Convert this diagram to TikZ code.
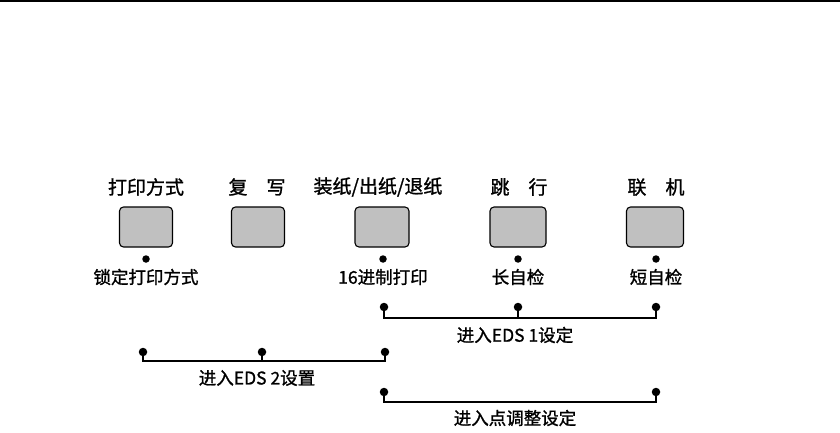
\documentclass[tikz,border=0pt]{standalone}
\usepackage{fontspec}
\setmainfont{Noto Sans CJK SC}[FakeBold=1.2]
\begin{document}
\begin{tikzpicture}[x=1pt,y=-1pt,
  keybox/.style={draw=black,line width=1.1pt,fill={rgb,255:red,192;green,192;blue,192},rounded corners=4pt,minimum width=53pt,minimum height=40pt,inner sep=0pt},
  toplbl/.style={font=\fontsize{19}{19}\selectfont,inner sep=0pt},
  botlbl/.style={font=\fontsize{17.5}{17.5}\selectfont,inner sep=0pt},
  pin/.style={circle,fill=black,inner sep=0pt,minimum size=8.5pt},
  wire/.style={line width=1.6pt}]
\useasboundingbox (0,0) rectangle (840,433);
\fill[black] (0,0) rectangle (840,2.2);
% buttons
\node[keybox] (k1) at (146,227) {};
\node[keybox] (k2) at (258,227) {};
\node[keybox,minimum width=54pt] (k3) at (382,227) {};
\node[keybox,minimum width=56pt] (k4) at (518,227) {};
\node[keybox,minimum width=57pt] (k5) at (655,227) {};
% top labels
\node[toplbl] (t1) at (146,187) {打印方式};
\node[toplbl] (t2) at (257,187) {复　写};
\node[toplbl] (t3) at (378,187) {装纸/出纸/退纸};
\node[toplbl] (t4) at (519,187) {跳　行};
\node[toplbl] (t5) at (656,187) {联　机};
% LED dots
\node[pin,minimum size=7.5pt] (l1) at (146,259) {};
\node[pin,minimum size=7.5pt] (l3) at (383,259) {};
\node[pin,minimum size=7.5pt] (l4) at (518,259) {};
\node[pin,minimum size=7.5pt] (l5) at (656,259) {};
% lower labels
\node[botlbl] (b1) at (146,277) {锁定打印方式};
\node[botlbl] (b3) at (383,277) {16进制打印};
\node[botlbl] (b4) at (518,277) {长自检};
\node[botlbl] (b5) at (656,277) {短自检};
% EDS 1
\node[pin] (a1) at (384,307) {};
\node[pin] (a2) at (518,307) {};
\node[pin] (a3) at (656,307) {};
\coordinate (a1b) at (384,318);
\coordinate (a2b) at (518,318);
\coordinate (a3b) at (656,318);
\draw[wire] (a1.center) -- (a1b) -- (a3b) -- (a3.center);
\draw[wire] (a2.center) -- (a2b);
\node[botlbl] (e1) at (515,335) {进入EDS 1设定};
% EDS 2
\node[pin] (c1) at (143,352) {};
\node[pin] (c2) at (262,352) {};
\node[pin] (c3) at (385,352) {};
\coordinate (c1b) at (143,361);
\coordinate (c2b) at (262,361);
\coordinate (c3b) at (385,361);
\draw[wire] (c1.center) -- (c1b) -- (c3b) -- (c3.center);
\draw[wire] (c2.center) -- (c2b);
\node[botlbl] (e2) at (257,378) {进入EDS 2设置};
% dot adjust
\node[pin] (d1) at (384,392) {};
\node[pin] (d2) at (656,392) {};
\coordinate (d1b) at (384,402);
\coordinate (d2b) at (656,402);
\draw[wire] (d1.center) -- (d1b) -- (d2b) -- (d2.center);
\node[botlbl] (e3) at (515,418) {进入点调整设定};
\end{tikzpicture}
\end{document}
